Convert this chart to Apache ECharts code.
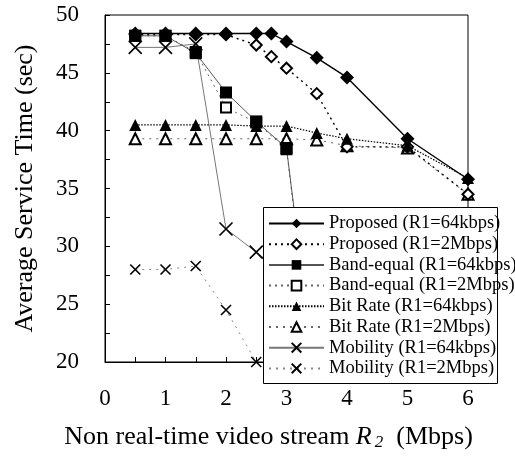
<!DOCTYPE html>
<html>
<head>
<meta charset="utf-8">
<script src="https://cdn.jsdelivr.net/npm/echarts@6/dist/echarts.min.js"></script>
<style>
  html, body { margin: 0; padding: 0; background: #fff; }
  #chart { width: 515px; height: 456px; }
</style>
</head>
<body>
<div id="chart"></div>
<script>
// x positions (Mbps)
var xProposed = [0.5, 1, 1.5, 2, 2.5, 2.75, 3, 3.5, 4, 5, 6];
var xBand = [0.5, 1, 1.5, 2, 2.5, 3, 3.5];
var xBitRate = [0.5, 1, 1.5, 2, 2.5, 3, 3.5, 4, 5, 6];
var xMobility64 = [0.5, 1, 1.5, 2, 2.5, 3];
var xMobility2M = [0.5, 1, 1.5, 2, 2.5];

// average service time (sec)
var proposed64 = [48.4, 48.4, 48.4, 48.4, 48.4, 48.4, 47.7, 46.3, 44.6, 39.3, 35.8];
var proposed2M = [48.3, 48.3, 48.3, 48.3, 47.4, 46.4, 45.4, 43.2, 38.6, 38.6, 34.5];
var band64 = [48.2, 48.2, 46.7, 43.3, 40.8, 38.5, 17.4];
var band2M = [48.2, 48.2, 46.8, 42.0, 40.7, 38.4, 17.0];
var bitRate64 = [40.5, 40.5, 40.5, 40.5, 40.4, 40.4, 39.8, 39.3, 38.7, 35.9];
var bitRate2M = [39.3, 39.3, 39.3, 39.3, 39.3, 39.3, 39.2, 38.7, 38.5, 34.5];
var mobility64 = [47.2, 47.2, 47.5, 31.5, 29.5, 27.4];
var mobility2M = [28.0, 28.0, 28.3, 24.5, 20.0];

var seriesNames = [
    'Proposed (R1=64kbps)', 'Proposed (R1=2Mbps)',
    'Band-equal (R1=64kbps)', 'Band-equal (R1=2Mbps)',
    'Bit Rate (R1=64kbps)', 'Bit Rate (R1=2Mbps)',
    'Mobility (R1=64kbps)', 'Mobility (R1=2Mbps)'
];

var FONT = '"Liberation Serif", "Times New Roman", serif';
var CROSS = 'path://M0,0L10,10M10,0L0,10';

function pairs(xs, ys) {
    return xs.map(function (x, i) { return [x, ys[i]]; });
}

function mkSeries(name, xs, ys, symbol, size, lineColor, lineType, lineWidth, hollow) {
    var isCross = symbol === CROSS;
    return {
        name: name,
        type: 'line',
        data: pairs(xs, ys),
        symbol: symbol,
        symbolSize: size,
        clip: true,
        lineStyle: { color: lineColor, type: lineType, width: lineWidth },
        itemStyle: {
            color: '#000',
            borderColor: '#000',
            borderWidth: hollow ? 1.5 : (isCross ? 1.6 : 0)
        },
        emphasis: { disabled: true },
        animation: false
    };
}

var chart = echarts.init(document.getElementById('chart'));
chart.setOption({
    backgroundColor: '#fff',
    textStyle: { fontFamily: FONT, color: '#000' },
    grid: {
        left: 105, top: 15, right: 47, bottom: 90,
        show: true, borderColor: '#000', borderWidth: 1
    },
    // legend frame, drawn over the series and under the legend items
    graphic: [{
        type: 'rect',
        left: 263, top: 207, z: 5,
        shape: { width: 234, height: 176 },
        style: { fill: '#fff', stroke: '#000', lineWidth: 1 }
    }],
    legend: {
        data: seriesNames,
        orient: 'vertical',
        left: 264, top: 208,
        z: 6,
        padding: [6, 0, 0, 4],
        itemWidth: 55, itemHeight: 12, itemGap: 1.7,
        textStyle: { fontFamily: FONT, fontSize: 18.5, color: '#000' }
    },
    xAxis: {
        type: 'value',
        min: 0, max: 6, interval: 0.5,
        name: 'Non real-time video stream {i|R}{s|2}  (Mbps)',
        nameLocation: 'middle',
        nameGap: 61,
        nameTextStyle: {
            fontFamily: FONT, fontSize: 26, color: '#000',
            padding: [0, 36, 0, 0],
            rich: {
                i: { fontFamily: FONT, fontSize: 26, fontStyle: 'italic' },
                s: { fontFamily: FONT, fontSize: 17, fontStyle: 'italic', padding: [11, 0, 0, 3] }
            }
        },
        axisLine: { lineStyle: { color: '#000', width: 1 } },
        axisTick: { inside: true, length: 5, lineStyle: { color: '#000' } },
        axisLabel: {
            fontFamily: FONT, fontSize: 23, color: '#000', margin: 25,
            formatter: function (v) { return v % 1 === 0 ? String(v) : ''; }
        },
        splitLine: { show: false }
    },
    yAxis: {
        type: 'value',
        min: 20, max: 50, interval: 2.5,
        name: 'Average Service Time (sec)',
        nameLocation: 'middle',
        nameGap: 67,
        nameTextStyle: { fontFamily: FONT, fontSize: 26, color: '#000' },
        axisLine: { lineStyle: { color: '#000', width: 1 } },
        axisTick: { inside: true, length: 5, lineStyle: { color: '#000' } },
        axisLabel: {
            fontFamily: FONT, fontSize: 23, color: '#000', margin: 26,
            formatter: function (v) { return v % 5 === 0 ? String(v) : ''; }
        },
        splitLine: { show: false }
    },
    // hollow (2Mbps) series first so the filled markers sit on top of them
    series: [
        mkSeries(seriesNames[7], xMobility2M, mobility2M, CROSS, 10, '#888', [2, 5], 1, false),
        mkSeries(seriesNames[5], xBitRate, bitRate2M, 'emptyTriangle', 11, '#666', [2, 5], 1, true),
        mkSeries(seriesNames[3], xBand, band2M, 'emptyRect', 10, '#666', [2, 4], 1, true),
        mkSeries(seriesNames[1], xProposed, proposed2M, 'emptyDiamond', 11, '#000', [2, 4], 1.4, true),
        mkSeries(seriesNames[6], xMobility64, mobility64, CROSS, 13, '#777', 'solid', 1, false),
        mkSeries(seriesNames[4], xBitRate, bitRate64, 'triangle', 12, '#000', [1.5, 1.5], 1.2, false),
        mkSeries(seriesNames[2], xBand, band64, 'rect', 12, '#555', 'solid', 1, false),
        mkSeries(seriesNames[0], xProposed, proposed64, 'diamond', 14, '#000', 'solid', 1.4, false)
    ]
});
</script>
</body>
</html>
